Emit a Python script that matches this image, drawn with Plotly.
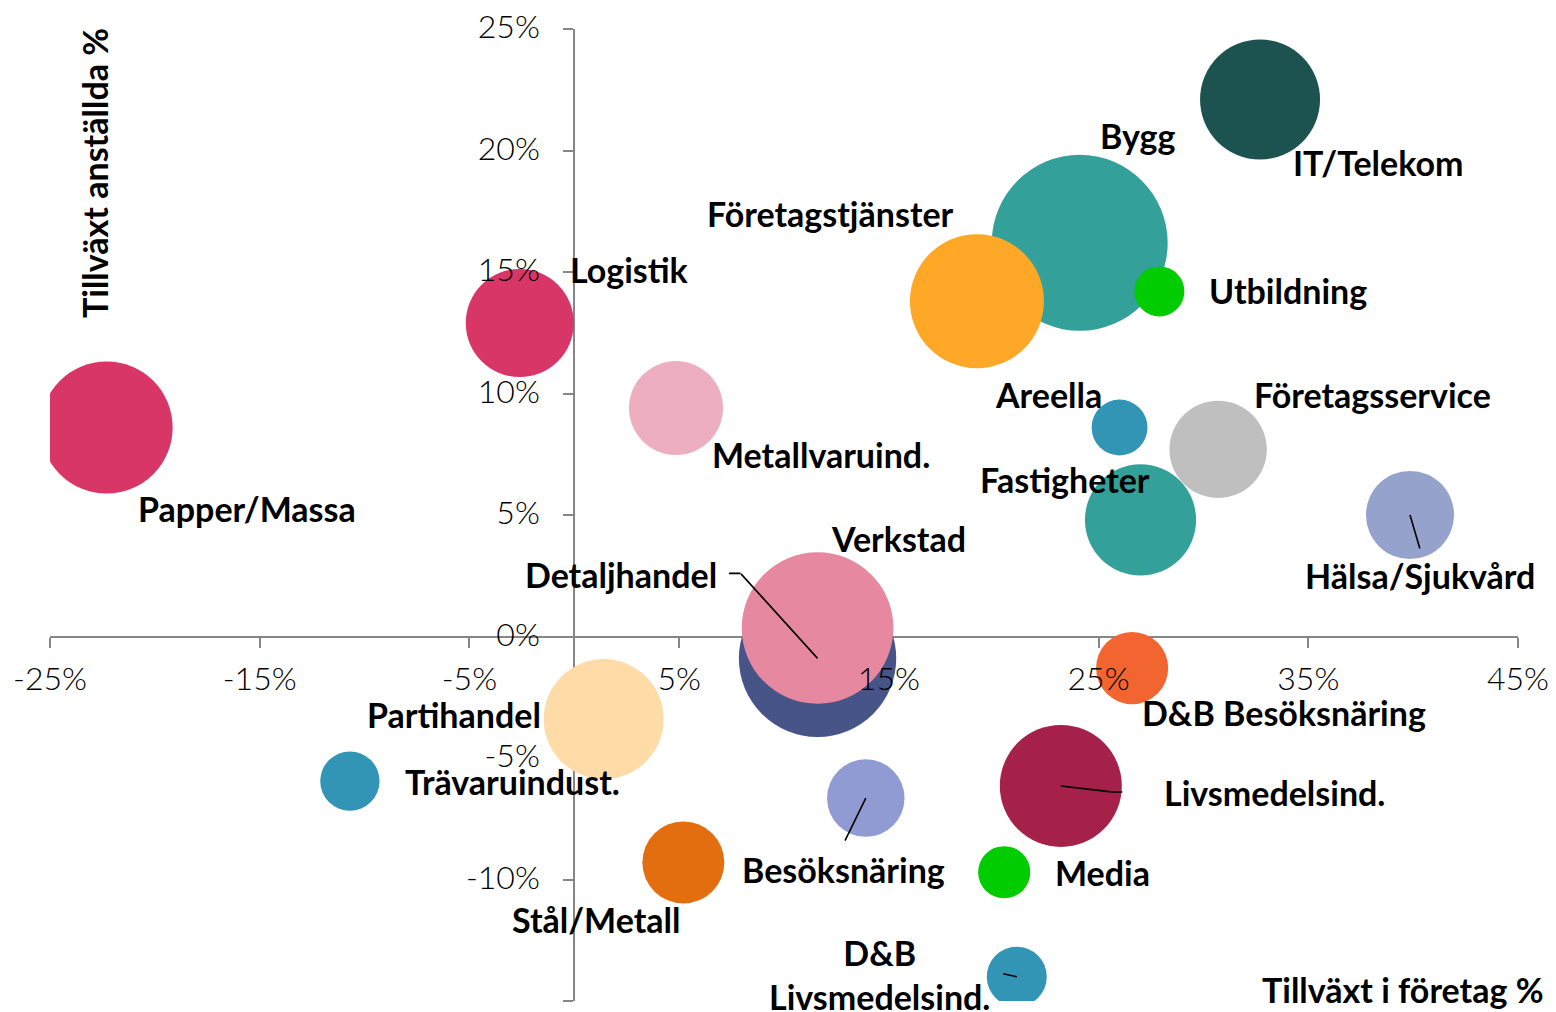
import plotly.graph_objects as go

# ---------------- data ----------------
branscher = [
    "Papper/Massa", "Logistik", "Metallvaruind.", "Bygg", "Företagstjänster",
    "Utbildning", "IT/Telekom", "Areella", "Företagsservice", "Fastigheter",
    "Hälsa/Sjukvård", "Detaljhandel", "Verkstad", "D&B Besöksnäring",
    "Partihandel", "Trävaruindust.", "Besöksnäring", "Livsmedelsind.",
    "Stål/Metall", "Media", "D&B<br>Livsmedelsind.",
]
# Tillväxt i företag % (x)
tillvaxt_foretag = [
    -22.3, -2.6, 4.85, 24.1, 19.2,
    27.9, 32.7, 26.0, 30.7, 27.0,
    39.85, 11.6, 11.6, 26.6,
    1.4, -10.7, 13.9, 23.2,
    5.2, 20.5, 21.1,
]
# Tillväxt anställda % (y)
tillvaxt_anstallda = [
    8.6, 12.9, 9.4, 16.2, 13.8,
    14.2, 22.1, 8.6, 7.7, 4.8,
    5.0, -0.9, 0.35, -1.3,
    -3.4, -5.95, -6.65, -6.15,
    -9.3, -9.7, -14.0,
]
# bubble size (relative)
storlek = [
    43.6, 29.2, 22.1, 77.4, 44.9,
    6.25, 36.0, 7.8, 23.7, 30.9,
    19.4, 61.9, 57.5, 13.0,
    36.0, 8.8, 15.0, 37.2,
    16.8, 6.8, 9.0,
]

x_tickvals = [-25, -15, -5, 5, 15, 25, 35, 45]
x_ticktext = ["-25%", "-15%", "-5%", "5%", "15%", "25%", "35%", "45%"]
y_tickvals = [-15, -10, -5, 0, 5, 10, 15, 20, 25]
y_ticktext = ["-15%", "-10%", "-5%", "0%", "5%", "10%", "15%", "20%", "25%"]

x_title = "Tillväxt i företag %"
y_title = "Tillväxt anställda %"

# ---------------- styles ----------------
colors = [
    "#D93668", "#D93668", "#EEAEC2", "#33A09A", "#FFA726",
    "#00CC00", "#1C5350", "#3295B5", "#BFBFBF", "#33A09A",
    "#95A2CB", "#475488", "#E688A0", "#F26531",
    "#FFDBA8", "#3295B5", "#8F9BD2", "#A52149",
    "#E36E0F", "#00CC00", "#3295B5",
]
# label offsets from bubble centre, pixels (dx right, dy down)
label_offsets = [
    (140, 80.5), (110, -53.5), (145, 46.5), (57.5, -107), (-146.5, -88),
    (129, -0.5), (118, 63), (-71, -33), (154, -54.6), (-76, -40.5),
    (10, 60.5), (-196.5, -83.5), (80.5, -90), (151.5, 44.5),
    (-150, -4.5), (163, 0), (-22, 71), (213.5, 6.5),
    (-87, 57.5), (98, 0.5), (-137, -2),
]
# leader lines: (index, tail dx, tail dy, shift dx, shift dy)
leaders = [
    (10, 10, 34, 0, 0),
    (11, -77, -85, 0, 0),
    (11, -12, 0, -77, -85),
    (16, -21, 43, 0, 0),
    (17, 51, 6, 0, 0),
    (17, 11, 0, 51, 6),
    (20, -14, -3, 0, 0),
]

FONT = "Lato, 'Open Sans', sans-serif"
label_font = dict(family=FONT, size=34, color="black", weight="bold")
tick_font = dict(family=FONT, size=32, color="black", weight=300)
axis_grey = "#868686"

L, R, T, B = 50, 38, 29, 11
W, H = 1556, 1012
PW, PH = W - L - R, H - T - B

fig = go.Figure()
fig.add_trace(go.Scatter(
    x=tillvaxt_foretag, y=tillvaxt_anstallda, mode="markers",
    marker=dict(size=storlek, sizemode="area", sizeref=0.005,
                color=colors, opacity=1, line=dict(width=0)),
    text=branscher, hoverinfo="text", showlegend=False,
))
fig.add_trace(go.Scatter(x=[], y=[], xaxis="x2", yaxis="y2",
                         showlegend=False, hoverinfo="skip"))

annotations = []
for name, xv, yv, (dx, dy) in zip(branscher, tillvaxt_foretag, tillvaxt_anstallda, label_offsets):
    annotations.append(dict(
        x=xv, y=yv, xref="x", yref="y", text=name, showarrow=False,
        xshift=dx, yshift=-dy, font=label_font, xanchor="center", yanchor="middle",
    ))
for idx, ax, ay, sx, sy in leaders:
    annotations.append(dict(
        x=tillvaxt_foretag[idx], y=tillvaxt_anstallda[idx], xref="x", yref="y",
        text="", showarrow=True, arrowhead=0, arrowwidth=1.6, arrowcolor="black",
        ax=ax, ay=ay, standoff=0, xshift=sx, yshift=-sy, borderpad=0,
    ))
annotations.append(dict(
    x=(94 - L) / PW, y=(H - B - 173) / PH, xref="paper", yref="paper",
    text=y_title, textangle=-90, showarrow=False, font=label_font,
    xanchor="center", yanchor="middle",
))
annotations.append(dict(
    x=(1402.5 - L) / PW, y=(H - B - 989) / PH, xref="paper", yref="paper",
    text=x_title, showarrow=False, font=label_font,
    xanchor="center", yanchor="middle",
))

xr = [x_tickvals[0], x_tickvals[-1]]
yr = [y_tickvals[0], y_tickvals[-1]]
xpos = (0 - yr[0]) / (yr[1] - yr[0])
ypos = (0 - xr[0]) / (xr[1] - xr[0])

common_line = dict(showgrid=False, zeroline=False, showline=True, linecolor=axis_grey,
                   linewidth=2, ticks="outside", ticklen=10, tickwidth=2,
                   tickcolor=axis_grey, showticklabels=False, layer="below traces",
                   anchor="free", fixedrange=True, automargin=False)
common_lab = dict(showgrid=False, zeroline=False, showline=False, ticks="outside",
                  ticklen=10, tickcolor="rgba(0,0,0,0)", tickfont=tick_font,
                  anchor="free", fixedrange=True, automargin=False)

fig.update_layout(
    width=W, height=H,
    margin=dict(l=L, r=R, t=T, b=B, autoexpand=False),
    paper_bgcolor="white", plot_bgcolor="white",
    xaxis=dict(range=xr, tickvals=x_tickvals, position=xpos, **common_line),
    yaxis=dict(range=yr, tickvals=y_tickvals, position=ypos, **common_line),
    xaxis2=dict(range=xr, tickvals=x_tickvals, ticktext=x_ticktext, overlaying="x",
                position=xpos, ticklabelstandoff=4, **common_lab),
    yaxis2=dict(range=yr, tickvals=y_tickvals, ticktext=y_ticktext, overlaying="y",
                position=ypos, side="left", ticklabelstandoff=18, ticklabelshift=-2,
                **common_lab),
    annotations=annotations,
    showlegend=False,
)

fig.write_html(
    "out.html",
    config={"displayModeBar": False},
    post_script="document.body.style.margin='0';document.body.style.overflow='hidden';",
)
